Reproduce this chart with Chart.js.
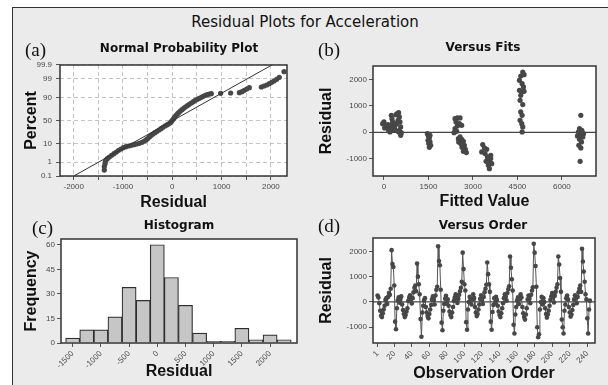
<!DOCTYPE html>
<html><head><meta charset="utf-8">
<script src="https://cdn.jsdelivr.net/npm/chart.js@4.4.1/dist/chart.umd.min.js"></script>
<style>
html,body{margin:0;padding:0;background:#fff;}
body{width:608px;height:385px;overflow:hidden;position:relative;}
#frame{position:absolute;left:12px;top:7px;width:596px;height:378px;background:#ebebeb;border-top:1px solid #333;border-left:1px solid #333;box-sizing:border-box;}
#mainTitle{position:absolute;left:0;width:610px;top:12px;text-align:center;font:15px "DejaVu Sans";color:#111;line-height:20px;}
.lab{position:absolute;font:19px "Liberation Serif";color:#111;line-height:20px;}
canvas{position:absolute;}
</style></head><body>
<div id="frame"></div>
<div id="mainTitle">Residual Plots for Acceleration</div>
<canvas id="ca" width="334" height="182" style="left:12px;top:30px"></canvas>
<canvas id="cb" width="362" height="182" style="left:302px;top:30px"></canvas>
<canvas id="cc" width="334" height="180" style="left:12px;top:205px"></canvas>
<canvas id="cd" width="362" height="180" style="left:302px;top:205px"></canvas>
<div class="lab" style="left:25px;top:40px">(a)</div>
<div class="lab" style="left:318px;top:40px">(b)</div>
<div class="lab" style="left:32px;top:218px">(c)</div>
<div class="lab" style="left:318px;top:216px">(d)</div>
<script>
// ---------------- DATA ----------------
// (a) Normal probability plot: residual vs cumulative percent
const npResidual = [-1379,-1379,-1365,-1358,-1345,-1318,-1277,-1230,-1183,-1135,-1088,-1041,-993,-939,-885,-831,-777,-723,-669,-615,-567,-527,-493,-459,-425,-391,-351,-310,-270,-229,-189,-148,-114,-80,-47,-20,1,21,41,61,82,109,136,163,197,231,264,305,345,386,427,467,508,548,589,629,670,711,751,792,981,1184,1360,1414,1461,1509,1563,1806,1860,1914,1968,2016,2063,2117,2171,2266];
const npPercent = [0.29,0.51,0.77,1.10,1.39,1.68,2.11,2.62,3.24,3.98,4.85,5.64,6.53,7.27,7.80,8.35,8.93,9.54,10.19,11.22,12.69,14.30,16.04,18.41,20.44,22.63,24.92,27.33,29.84,32.46,35.20,37.98,40.13,42.27,44.47,47.41,50.37,53.32,56.26,59.17,62.02,64.80,67.54,70.16,72.67,75.08,77.37,79.56,81.59,83.50,85.27,86.91,88.06,89.14,90.13,91.07,91.94,92.48,92.99,93.24,93.47,93.71,93.93,94.58,95.34,96.02,96.62,96.89,97.26,97.59,97.98,98.32,98.61,98.90,99.19,99.67];
const fitLineResidual = [-1998, 2020];
const fitLinePercent = [0.1, 99.9];
const npXTickLabels = [-2000,-1000,0,1000,2000];
const npXGrid = [-2000,-1500,-1000,-500,0,500,1000,1500,2000];
const npYTickLabels = [0.1,1,10,50,90,99,99.9];

// (b) Versus fits
const fitsFitted = [-45,0,45,90,135,180,203,248,270,293,315,338,371,405,450,495,518,473,428,540,563,518,585,563,158,23,225,360,495,
 1463,1496,1530,1485,1553,1508,1575,1530,1553,
 2396,2475,2565,2430,2542,2475,2396,2453,2363,2565,2509,2621,2678,2587,2711,2632,2745,2678,2779,2520,2621,
 3330,3386,3296,3409,3465,3488,3555,3443,3600,3578,3521,3634,3555,3600,
 4680,4725,4612,4568,4658,4703,4568,4646,4725,4612,4590,4680,4612,4658,4590,4646,4680,4658,
 6638,6593,6671,6559,6728,6615,6525,6705,6593,6660,6570,6638,6615,6683];
const fitsResidual = [329,392,266,203,291,139,13,646,519,392,203,76,266,671,709,747,582,456,329,392,203,76,-13,-114,76,165,266,139,13,
 -51,-139,-215,-304,-367,-430,-494,-570,-114,
 519,544,544,392,329,241,139,38,-13,-177,-241,-266,-342,-430,-494,-570,-646,-722,-772,-367,266,
 -468,-595,-747,-810,-646,-937,-1025,-1101,-874,-1152,-1253,-1190,-1380,-1000,
 2291,2190,2139,1975,1848,1722,1595,1532,1557,1405,1215,1051,772,646,456,329,203,13,
 646,139,76,13,-51,-89,-139,-177,-266,-367,-494,-595,-1101,-13];
const fitsXTicks = [0,1500,3000,4500,6000];
const fitsYTicks = [-1000,0,1000,2000];

// (c) Histogram
const histBinCenters = [-1500,-1250,-1000,-750,-500,-250,0,250,500,750,1000,1250,1500,1750,2000,2250];
const histCounts = [3,8,8,16,34,26,60,40,23,6,1,1,9,2,5,2];
const histXTicks = [-1500,-1000,-500,0,500,1000,1500,2000];
const histYTicks = [0,15,30,45,60];

// (d) Versus order
const orderResidual = [
 250,180,-50,-350,-550,-600,-450,-300,-150,80,150,-80,200,350,280,520,2050,1500,1380,650,-780,-1080,-250,60,180,-30,120,
 220,-100,-320,-480,-600,-520,-380,-250,40,170,260,120,-60,150,380,560,650,420,1520,1000,700,300,-680,-1380,-420,-150,60,
 150,-200,-420,-560,-650,-480,-300,-120,100,220,80,-100,250,480,600,2200,1620,1450,480,-820,-1120,-350,-80,130,240,-60,100,
 -150,-380,-520,-600,-420,-200,50,180,300,150,-40,120,280,420,560,800,1950,1300,700,450,-800,-1100,-300,0,200,120,-100,
 100,300,160,-200,-420,-560,-480,-300,-100,120,260,80,-80,200,380,520,680,1560,1100,700,400,-780,-1100,-400,-120,150,-50,
 200,80,-150,-380,-520,-600,-450,-250,-50,150,300,200,50,350,500,620,1800,1350,900,450,-900,-1250,-500,-200,60,180,-80,
 120,300,180,-200,-450,-600,-700,-500,-250,100,250,120,-50,280,450,580,2300,1950,1420,600,-1000,-1400,-1280,-300,0,200,-100,
 150,0,-250,-480,-620,-500,-350,-150,80,220,350,180,-20,240,400,560,700,1800,1480,950,400,-700,-1000,-1250,-350,-100,150,
 250,100,-200,-420,-580,-500,-320,-120,100,260,150,-50,200,380,520,650,400,2100,1600,1200,800,300,100,-650,-1250,-300,50];
const orderXTicks = [1,20,40,60,80,100,120,140,160,180,200,220,240];
const orderYTicks = [-1000,0,1000,2000];

// ---------------- HELPERS ----------------
function probit(p){
 const a=[-3.969683028665376e+01,2.209460984245205e+02,-2.759285104469687e+02,1.383577518672690e+02,-3.066479806614716e+01,2.506628277459239e+00];
 const b=[-5.447609879822406e+01,1.615858368580409e+02,-1.556989798598866e+02,6.680131188771972e+01,-1.328068155288572e+01];
 const c=[-7.784894002430293e-03,-3.223964580411365e-01,-2.400758277161838e+00,-2.549732539343734e+00,4.374664141464968e+00,2.938163982698783e+00];
 const d=[7.784695709041462e-03,3.224671290700398e-01,2.445134137142996e+00,3.754408661907416e+00];
 const pl=0.02425, ph=1-pl; let q,r;
 if(p<pl){q=Math.sqrt(-2*Math.log(p));return (((((c[0]*q+c[1])*q+c[2])*q+c[3])*q+c[4])*q+c[5])/((((d[0]*q+d[1])*q+d[2])*q+d[3])*q+1);}
 if(p<=ph){q=p-0.5;r=q*q;return (((((a[0]*r+a[1])*r+a[2])*r+a[3])*r+a[4])*r+a[5])*q/(((((b[0]*r+b[1])*r+b[2])*r+b[3])*r+b[4])*r+1);}
 q=Math.sqrt(-2*Math.log(1-p));return -(((((c[0]*q+c[1])*q+c[2])*q+c[3])*q+c[4])*q+c[5])/((((d[0]*q+d[1])*q+d[2])*q+d[3])*q+1);
}

const TICK_FONT = {family:'Liberation Sans', size:8};
const AXIS_TITLE_FONT = {family:'Liberation Sans', size:16, weight:'bold'};
const PANEL_TITLE_FONT = {family:'DejaVu Sans', size:12, weight:'bold'};

const plotBg = {id:'plotBg', beforeDraw(chart){const {ctx,chartArea:{left,top,width,height}}=chart;ctx.save();ctx.fillStyle='#ffffff';ctx.fillRect(left,top,width,height);ctx.restore();}};
const frame = {id:'frame', afterDraw(chart){const {ctx,chartArea:{left,top,width,height}}=chart;ctx.save();ctx.strokeStyle='#333';ctx.lineWidth=1.5;ctx.strokeRect(left,top,width,height);ctx.restore();}};
const zeroLine = {id:'zeroLine', beforeDatasetsDraw(chart){const {ctx,chartArea:{left,right}}=chart;const y=chart.scales.y.getPixelForValue(0);ctx.save();ctx.strokeStyle='#444';ctx.lineWidth=1.2;ctx.beginPath();ctx.moveTo(left,y);ctx.lineTo(right,y);ctx.stroke();ctx.restore();}};

function axis(o){
 return {
  type:'linear', min:o.min, max:o.max, offset:false,
  afterBuildTicks: s => { s.ticks = o.ticks.map(v=>({value:v})); },
  afterFit: s => { if(o.isX) s.height = o.size; else s.width = o.size; },
  ticks:{font:TICK_FONT, color:'#4a4a4a', padding:o.tickPad ?? 2, autoSkip:false,
         maxRotation:o.rot||0, minRotation:o.rot||0, callback:o.fmt || (v=>String(v))},
  grid:{drawOnChartArea:!!o.gridOn, color:'#c4c4c4', lineWidth:1, tickColor:'#555', tickLength:4, offset:false},
  border:{display:false, dash:o.gridOn?[4,3]:[]},
  title:{display:true, text:o.title, font:AXIS_TITLE_FONT, color:'#111', padding:{top:o.titlePad, bottom:o.titlePad}}
 };
}

function makePanel(id, g, type, datasets, xo, yo, extraPlugins){
 const LH = 12*1.2;
 const yW = g.l - g.L, xH = g.T + g.H - g.b, rW = g.L + g.W - g.r;
 const tpt = g.titleY - g.T - LH/2;
 const tpb = (g.t - g.T) - tpt - LH;
 xo.isX = true; xo.size = xH; xo.titlePad = Math.max(0, g.T + g.H - g.xTitleY - 9.6);
 yo.isX = false; yo.size = yW; yo.titlePad = g.yTitleX - g.L - 9.6;
 return new Chart(document.getElementById(id), {
  type, data:{datasets},
  options:{
   responsive:false, animation:false, devicePixelRatio:1, events:[],
   layout:{padding:{left:0,top:0,right:0,bottom:0}},
   plugins:{legend:{display:false}, tooltip:{enabled:false},
    title:{display:true, text:g.title, font:PANEL_TITLE_FONT, color:'#111', fullSize:true, padding:{top:tpt,bottom:tpb}}},
   scales:{
    x: axis(xo), y: axis(yo),
    yR:{type:'linear', axis:'y', position:'right', display:true, grid:{display:false, drawTicks:false}, ticks:{display:false}, border:{display:false}, afterFit:s=>{s.width=rW;}}
   }
  },
  plugins:[plotBg, ...(extraPlugins||[]), frame]
 });
}

// ---------------- PANELS ----------------
// (a)
makePanel('ca', {L:12,T:30,W:334,H:182,l:60,t:65,r:287,b:176,titleY:48.5,yTitleX:32,xTitleY:202.5,title:'Normal Probability Plot'}, 'scatter',
 [
  {data:fitLineResidual.map((r,i)=>({x:r,y:probit(fitLinePercent[i]/100)})), showLine:true, borderColor:'#333', borderWidth:1, pointRadius:0},
  {data:npResidual.map((r,i)=>({x:r,y:probit(npPercent[i]/100)})), pointRadius:2.6, pointBackgroundColor:'#474747', pointBorderWidth:0, showLine:false}
 ],
 {min:-2278, max:2327, ticks:npXGrid, gridOn:true, title:'Residual', fmt:v=>npXTickLabels.includes(v)?String(v):''},
 {min:probit(0.001), max:probit(0.999), ticks:npYTickLabels.map(p=>probit(p/100)), gridOn:true, title:'Percent', tickPad:4, fmt:(v,i)=>String(npYTickLabels[i])});

// (b)
makePanel('cb', {L:302,T:30,W:362,H:182,l:373,t:66,r:596,b:176,titleY:48,yTitleX:326.7,xTitleY:202,title:'Versus Fits'}, 'scatter',
 [{data:fitsFitted.map((f,i)=>({x:f,y:fitsResidual[i]})), pointRadius:2.6, pointBackgroundColor:'#474747', pointBorderWidth:0}],
 {min:-370, max:7150, ticks:fitsXTicks, title:'Fitted Value'},
 {min:-1660, max:2518, ticks:fitsYTicks, title:'Residual'}, [zeroLine]);

// (c)
makePanel('cc', {L:12,T:205,W:334,H:180,l:61,t:239,r:297,b:343,titleY:226,yTitleX:31.7,xTitleY:371.5,title:'Histogram'}, 'bar',
 [{data:histBinCenters.map((c,i)=>({x:c,y:histCounts[i]})), barPercentage:1, categoryPercentage:1, backgroundColor:'#c6c6c6', borderColor:'#2e2e2e', borderWidth:1.2}],
 {min:-1707, max:2477, ticks:histXTicks, title:'Residual', rot:45},
 {min:0, max:63.5, ticks:histYTicks, title:'Frequency'});

// (d)
makePanel('cd', {L:302,T:205,W:362,H:180,l:373,t:238,r:595,b:343,titleY:226,yTitleX:326.7,xTitleY:374,title:'Versus Order'}, 'line',
 [{data:orderResidual.map((v,i)=>({x:i+1,y:v})), borderColor:'#555', borderWidth:1, tension:0, pointRadius:2.3, pointBackgroundColor:'#474747', pointBorderWidth:0}],
 {min:-4.2, max:248.8, ticks:orderXTicks, title:'Observation Order', rot:45},
 {min:-1625, max:2530, ticks:orderYTicks, title:'Residual'}, [zeroLine]);
</script>
</body></html>
